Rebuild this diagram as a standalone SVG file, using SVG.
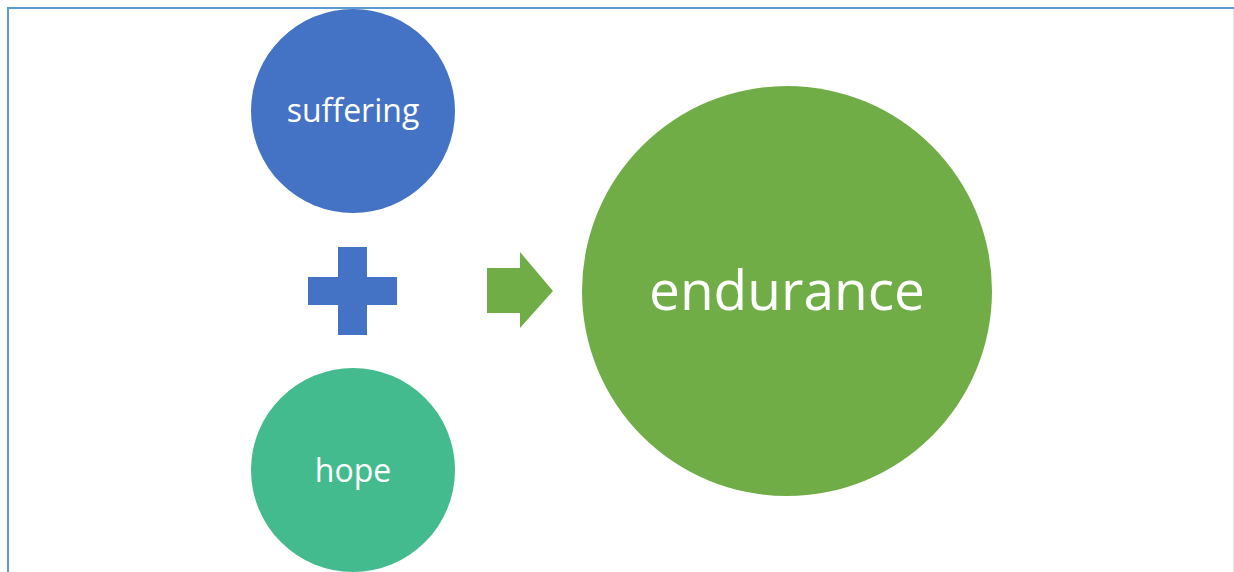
<svg xmlns="http://www.w3.org/2000/svg" width="1234" height="572" viewBox="0 0 1234 572">
<style>
.lbl{font-family:"Open Sans","Noto Sans","Liberation Sans",sans-serif;fill:#fff;text-anchor:middle;dominant-baseline:central}
</style>
<rect width="1234" height="572" fill="#fff"/>
<line x1="8" y1="8" x2="1234" y2="8" stroke="#5B9BD5" stroke-width="2"/>
<line x1="8" y1="7" x2="8" y2="572" stroke="#5B9BD5" stroke-width="2"/>
<line x1="1233.5" y1="9" x2="1233.5" y2="572" stroke="#DDE8F4" stroke-width="1"/>
<g id="suffering">
<circle cx="353" cy="111" r="102" fill="#4472C4"/>
<text class="lbl" x="353" y="109" font-size="32">suffering</text>
</g>
<g id="plus">
<path d="M338 247H367V277H397V305H367V335H338V305H308V277H338Z" fill="#4472C4"/>
</g>
<g id="hope">
<circle cx="353" cy="470" r="102" fill="#44BB8F"/>
<text class="lbl" x="353" y="469" font-size="32">hope</text>
</g>
<g id="connectors">
<path d="M487 268H520V252L553 291L520 328V313H487Z" fill="#70AD47"/>
</g>
<g id="endurance">
<circle cx="787" cy="291" r="205" fill="#70AD47"/>
<text class="lbl" x="787" y="288" font-size="55">endurance</text>
</g>
</svg>
